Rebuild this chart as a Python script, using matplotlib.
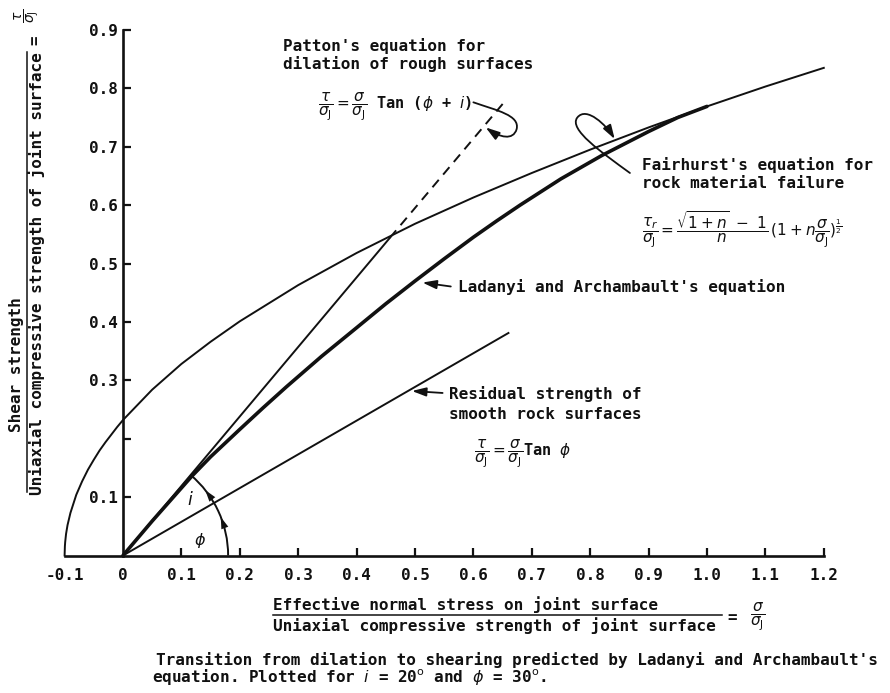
import numpy as np
import matplotlib.pyplot as plt
from matplotlib.patches import Arc, FancyArrowPatch
from matplotlib.path import Path
from matplotlib.lines import Line2D

plt.rcParams['font.family'] = ['DejaVu Sans Mono', 'DejaVu Sans']
plt.rcParams['mathtext.fontset'] = 'dejavusans'

FS = 11.5
INK = '#111111'

# Fairhurst envelope for rock material failure (n = 10)
fair_x = [-0.1, -0.0995, -0.099, -0.0975, -0.095, -0.09, -0.08, -0.07, -0.06, -0.05,
          -0.04, -0.03, -0.02, -0.01, 0.0, 0.05, 0.1, 0.15, 0.2, 0.3, 0.4, 0.5, 0.6,
          0.7, 0.8, 0.9, 1.0, 1.1, 1.2]
fair_y = [0.0, 0.016, 0.023, 0.037, 0.052, 0.073, 0.104, 0.127, 0.147, 0.164,
          0.180, 0.194, 0.207, 0.220, 0.232, 0.284, 0.328, 0.366, 0.401, 0.463, 0.518, 0.568, 0.613,
          0.655, 0.695, 0.733, 0.769, 0.803, 0.835]

# Ladanyi and Archambault transition curve
lad_x = [0.0, 0.05, 0.118, 0.15, 0.2, 0.24, 0.28, 0.34, 0.4, 0.45, 0.5, 0.55, 0.6,
         0.64, 0.68, 0.75, 0.82, 0.9, 0.95, 1.0]
lad_y = [0.0, 0.059, 0.136, 0.169, 0.216, 0.253, 0.289, 0.341, 0.390, 0.431, 0.470, 0.508, 0.545,
         0.573, 0.600, 0.645, 0.685, 0.726, 0.750, 0.769]

# Patton: tau/sigma_J = sigma/sigma_J tan(phi + i), solid then dashed
patton_x = [0.0, 0.457]
patton_y = [0.0, 0.544]
patton_dash_x = [0.457, 0.655]
patton_dash_y = [0.544, 0.779]

# residual strength of smooth surfaces, tan(phi)
resid_x = [0.0, 0.66]
resid_y = [0.0, 0.381]

x_ticks = [-0.1, 0.0, 0.1, 0.2, 0.3, 0.4, 0.5, 0.6, 0.7, 0.8, 0.9, 1.0, 1.1, 1.2]
x_labels = ['-0.1', '0', '0.1', '0.2', '0.3', '0.4', '0.5', '0.6', '0.7', '0.8',
            '0.9', '1.0', '1.1', '1.2']
y_ticks = [0.1, 0.2, 0.3, 0.4, 0.5, 0.6, 0.7, 0.8, 0.9]
y_labels = ['0.1', '', '0.3', '0.4', '0.5', '0.6', '0.7', '0.8', '0.9']

W, H = 890, 693
fig = plt.figure(figsize=(W / 100, H / 100), dpi=100)


def fpos(px, py):
    return px / W, 1 - py / H


TXT = dict(fontsize=FS, fontweight='bold', color=INK)

ax = fig.add_axes([64.6 / W, 1 - 555.5 / H, 759.2 / W, 525.6 / H])
ax.set_xlim(-0.1, 1.2)
ax.set_ylim(0, 0.9)

for s in ['top', 'right']:
    ax.spines[s].set_visible(False)
ax.spines['left'].set_position(('data', 0))
ax.spines['left'].set_bounds(0, 0.9)
for s in ['left', 'bottom']:
    ax.spines[s].set_linewidth(1.9)
    ax.spines[s].set_color(INK)

ax.set_xticks(x_ticks)
ax.set_xticklabels(x_labels, fontweight='bold')
ax.set_yticks(y_ticks)
ax.set_yticklabels(y_labels, fontweight='bold')
ax.tick_params(axis='both', direction='in', length=6, width=1.6, color=INK,
               labelsize=FS, labelcolor=INK)
ax.tick_params(axis='x', pad=9)
ax.tick_params(axis='y', pad=4)
for t in ax.xaxis.get_major_ticks()[:2]:
    t.tick1line.set_visible(False)

lw = 1.4
ax.plot(fair_x, fair_y, color=INK, lw=lw, clip_on=False)
ax.plot(lad_x, lad_y, color=INK, lw=2.6, clip_on=False, solid_capstyle='round')
ax.plot(patton_x, patton_y, color=INK, lw=lw)
ax.plot(patton_dash_x, patton_dash_y, color=INK, lw=lw, linestyle=(0, (5, 3.5)))
ax.plot(resid_x, resid_y, color=INK, lw=lw)

# angle marks for phi and i
r = 0.18
ax.add_patch(Arc((0, 0), 2 * r, 2 * r, theta1=0, theta2=50, color=INK, lw=1.4))
for a in [23, 40]:
    a0, a1 = np.radians(a - 5), np.radians(a)
    ax.annotate('', xy=(r * np.cos(a1), r * np.sin(a1)), xytext=(r * np.cos(a0), r * np.sin(a0)),
                arrowprops=dict(arrowstyle='-|>,head_length=0.7,head_width=0.22', color=INK,
                                lw=0.01, mutation_scale=12))
ax.text(0.115, 0.095, '$i$', fontsize=FS + 1, ha='center', va='center', color=INK)
ax.text(0.132, 0.025, r'$\phi$', fontsize=FS, ha='center', va='center', color=INK)

arrow_kw = dict(arrowstyle='-|>,head_length=0.7,head_width=0.22', color=INK, lw=1.3,
                mutation_scale=12)
eq_kw = dict(fontsize=FS - 0.5, va='center', color=INK)

# Patton label
ax.text(0.274, 0.873, "Patton's equation for", va='center', **TXT)
ax.text(0.274, 0.841, "dilation of rough surfaces", va='center', **TXT)
ax.text(0.334, 0.767,
        r'$\dfrac{\tau}{\sigma_\mathrm{J}} = \dfrac{\sigma}{\sigma_\mathrm{J}}$ Tan ($\phi$ + $i$)',
        fontweight='bold', **eq_kw)
loop = Path([(0.600, 0.776), (0.640, 0.762), (0.680, 0.754), (0.674, 0.730),
             (0.668, 0.710), (0.645, 0.716), (0.621, 0.733)],
            [Path.MOVETO, Path.CURVE4, Path.CURVE4, Path.CURVE4,
             Path.CURVE4, Path.CURVE4, Path.CURVE4])
ax.add_patch(FancyArrowPatch(path=loop, **arrow_kw))

# Fairhurst label
ax.text(0.889, 0.668, "Fairhurst's equation for", va='center', **TXT)
ax.text(0.889, 0.637, "rock material failure", va='center', **TXT)
ax.text(0.889, 0.558,
        r'$\dfrac{\tau_r}{\sigma_\mathrm{J}} = \dfrac{\sqrt{1+n}\ -\ 1}{n}\,(1 + n\dfrac{\sigma}{\sigma_\mathrm{J}})^{\frac{1}{2}}$',
        **eq_kw)
loop2 = Path([(0.868, 0.655), (0.820, 0.690), (0.762, 0.730), (0.778, 0.750),
              (0.794, 0.770), (0.828, 0.736), (0.842, 0.713)],
             [Path.MOVETO, Path.CURVE4, Path.CURVE4, Path.CURVE4,
              Path.CURVE4, Path.CURVE4, Path.CURVE4])
ax.add_patch(FancyArrowPatch(path=loop2, **arrow_kw))

# Ladanyi label
ax.annotate('', xy=(0.508, 0.468), xytext=(0.566, 0.460), arrowprops=arrow_kw)
ax.text(0.574, 0.459, "Ladanyi and Archambault's equation", va='center', **TXT)

# residual label
ax.annotate('', xy=(0.490, 0.282), xytext=(0.552, 0.278), arrowprops=arrow_kw)
ax.text(0.558, 0.277, "Residual strength of", va='center', **TXT)
ax.text(0.558, 0.241, "smooth rock surfaces", va='center', **TXT)
ax.text(0.601, 0.173,
        r'$\dfrac{\tau}{\sigma_\mathrm{J}} = \dfrac{\sigma}{\sigma_\mathrm{J}}$Tan $\phi$',
        fontweight='bold', **eq_kw)

# x axis title as a fraction
fig.text(*fpos(273, 605), "Effective normal stress on joint surface", va='center', **TXT)
fig.add_artist(Line2D([273 / W, 722 / W], [1 - 615 / H] * 2, transform=fig.transFigure,
                      color=INK, lw=1.1))
fig.text(*fpos(273, 626), "Uniaxial compressive strength of joint surface", va='center', **TXT)
fig.text(*fpos(727, 617), '=', va='center', **TXT)
fig.text(*fpos(750, 617), r'$\dfrac{\sigma}{\sigma_\mathrm{J}}$', fontsize=FS - 0.5,
         va='center', color=INK)

# y axis title as a fraction
fig.text(*fpos(17, 365), "Shear strength", rotation=90, ha='center', va='center', **TXT)
fig.add_artist(Line2D([27 / W] * 2, [1 - 492 / H, 1 - 52 / H], transform=fig.transFigure,
                      color=INK, lw=1.1))
fig.text(*fpos(37, 274), "Uniaxial compressive strength of joint surface",
         rotation=90, ha='center', va='center', **TXT)
fig.text(*fpos(35, 40), '=', rotation=90, ha='center', va='center', **TXT)
fig.text(*fpos(27, 16), r'$\dfrac{\tau}{\sigma_\mathrm{J}}$', fontsize=FS - 1.5, rotation=90,
         ha='center', va='center', color=INK)

# caption
fig.text(*fpos(156, 660), "Transition from dilation to shearing predicted by Ladanyi and Archambault's",
         va='center', **TXT)
fig.text(*fpos(152, 677),
         r"equation. Plotted for $i$ = 20$^{\mathrm{o}}$ and $\phi$ = 30$^{\mathrm{o}}$.",
         va='center', **TXT)

fig.savefig('out.png', dpi=100, facecolor='white')
